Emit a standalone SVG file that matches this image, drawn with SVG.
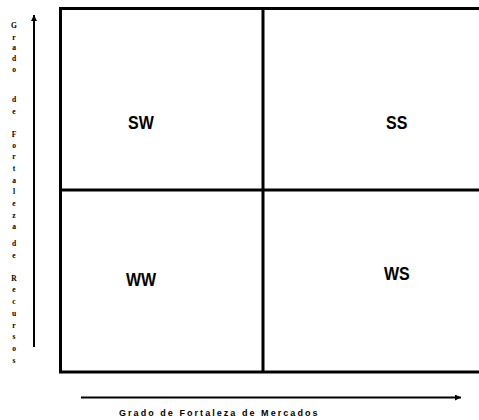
<svg xmlns="http://www.w3.org/2000/svg" width="479" height="420" viewBox="0 0 479 420">
<style>
.box{fill:none;stroke:#000;stroke-width:3}
.ax{fill:none;stroke:#000;stroke-width:2}
.q{font-family:"Liberation Sans",Arial,sans-serif;font-weight:bold;font-size:16px;fill:#000}
.v{font-family:"Liberation Serif","Times New Roman",serif;font-weight:bold;font-size:7.5px;fill:#000;text-anchor:middle}
.h{font-family:"Liberation Sans",Arial,sans-serif;font-weight:bold;font-size:9px;letter-spacing:2.05px;fill:#000}
</style>
<defs>
<marker id="ah" markerWidth="8" markerHeight="8" refX="6" refY="3" orient="auto" markerUnits="userSpaceOnUse">
<path d="M0,0 L6,3 L0,6 Z" fill="#000"/>
</marker>
</defs>
<g id="grid">
<rect class="box" x="60.5" y="8.5" width="422" height="363.5"/>
<line class="box" x1="60.5" y1="190" x2="482" y2="190"/>
<line class="box" x1="263" y1="8.5" x2="263" y2="372"/>
</g>
<g id="SW"><text class="q" x="128" y="129" transform="translate(0,-12.9) scale(1,1.1)">SW</text></g>
<g id="SS"><text class="q" x="386" y="129" transform="translate(0,-12.9) scale(1,1.1)">SS</text></g>
<g id="WW"><text class="q" x="126" y="286" transform="translate(0,-28.6) scale(1,1.1)">WW</text></g>
<g id="WS"><text class="q" x="384" y="280" transform="translate(0,-28) scale(1,1.1)">WS</text></g>
<g id="connectors">
<line class="ax" x1="34" y1="347" x2="34" y2="15" marker-end="url(#ah)"/>
<line class="ax" x1="81" y1="397.5" x2="461" y2="397.5" marker-end="url(#ah)"/>
</g>
<g id="yLabel">
<text class="v" x="14" y="27.7">G</text>
<text class="v" x="14" y="40">r</text>
<text class="v" x="14" y="50">a</text>
<text class="v" x="14" y="61">d</text>
<text class="v" x="14" y="72.3">o</text>
<text class="v" x="14" y="102">d</text>
<text class="v" x="14" y="114">e</text>
<text class="v" x="14" y="137">F</text>
<text class="v" x="14" y="148">o</text>
<text class="v" x="14" y="159">r</text>
<text class="v" x="14" y="171">t</text>
<text class="v" x="14" y="183">a</text>
<text class="v" x="14" y="194">l</text>
<text class="v" x="14" y="206">e</text>
<text class="v" x="14" y="218">z</text>
<text class="v" x="14" y="229">a</text>
<text class="v" x="14" y="246">d</text>
<text class="v" x="14" y="258">e</text>
<text class="v" x="14" y="281">R</text>
<text class="v" x="14" y="292">e</text>
<text class="v" x="14" y="304">c</text>
<text class="v" x="14" y="316">u</text>
<text class="v" x="14" y="328">r</text>
<text class="v" x="14" y="339">s</text>
<text class="v" x="14" y="351">o</text>
<text class="v" x="14" y="363">s</text>
</g>
<g id="xLabel"><text class="h" x="119" y="415.5">Grado de Fortaleza de Mercados</text></g>
</svg>
